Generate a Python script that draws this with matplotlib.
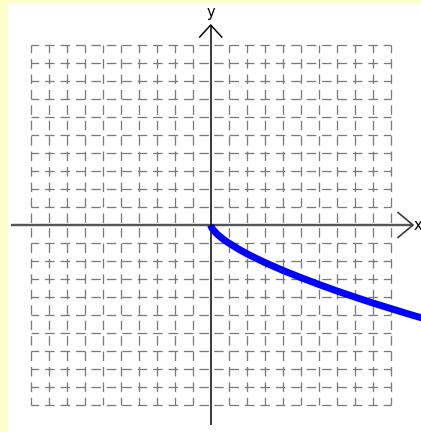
import matplotlib
matplotlib.use("Agg")
import matplotlib.pyplot as plt

plt.rcParams['lines.scale_dashes'] = False

# ---- data ----
curve_x = [0.0, 0.02, 0.05, 0.1, 0.2, 0.35, 0.5, 0.75, 1.0, 1.5, 2.0, 2.5, 3.0, 4.0,
           5.0, 6.0, 7.0, 8.0, 9.0, 10.0, 11.0, 12.0]
curve_y = [0.0, -0.07, -0.14, -0.22, -0.34, -0.50, -0.63, -0.83, -1.0, -1.31, -1.59,
           -1.84, -2.08, -2.52, -2.92, -3.30, -3.66, -4.0, -4.33, -4.64, -4.95, -5.24]
grid_range = 10          # grid from -10 to 10 in both directions
axis_labels = ["x", "y"]

# ---- layout ----
W, H = 421, 432
DPI = 100
PX = 18.0                 # pixels per unit
ox, oy = 210.7, 225.0     # origin in pixels (from top-left)
white_left, white_top = 8, 4

fig = plt.figure(figsize=(W / DPI, H / DPI), dpi=DPI, facecolor='#ffffcc')
ax = fig.add_axes([white_left / W, 0, (W - white_left) / W, (H - white_top) / H])
ax.set_facecolor('white')
ax.set_xlim((white_left - ox) / PX, (W - ox) / PX)
ax.set_ylim((oy - H) / PX, (oy - white_top) / PX)
ax.set_xticks([])
ax.set_yticks([])
for s in ax.spines.values():
    s.set_visible(False)

pt = 72.0 / DPI
on_px, off_px, start_px = 9.5, 5.93, 2.6
period = on_px + off_px
dash = ((period - start_px) * pt, (on_px * pt, off_px * pt))
gcol = '#7a7a7a'
glw = 1.3 * pt
for k in range(-grid_range, grid_range + 1):
    if k == 0:
        continue
    for sgn in (1, -1):
        ax.plot([k, k], [0, sgn * grid_range], color=gcol, lw=glw,
                linestyle=dash, solid_capstyle='butt', dash_capstyle='butt', zorder=1)
        ax.plot([0, sgn * grid_range], [k, k], color=gcol, lw=glw,
                linestyle=dash, solid_capstyle='butt', dash_capstyle='butt', zorder=1)

# x axis (grey, thick) with open arrow
x0, x1 = (11 - ox) / PX, (413 - ox) / PX
ax.plot([x0, x1], [0, 0], color='#555555', lw=2.4 * pt, zorder=2, solid_capstyle='butt')
ah_len, ah_w = 15 / PX, 12.5 / PX
ax.plot([x1 - ah_len, x1, x1 - ah_len], [ah_w, 0, -ah_w], color='#333333', lw=1.6 * pt, zorder=2)
ax.text((418 - ox) / PX, 0, axis_labels[0], fontsize=10.5, ha='center', va='center', color='black')

# y axis (black) with open arrow
y0, y1 = (oy - 425) / PX, (oy - 25) / PX
ax.plot([0, 0], [y0, y1], color='black', lw=1.5 * pt, zorder=2, solid_capstyle='butt')
ah_len2, ah_w2 = 12 / PX, 11 / PX
ax.plot([-ah_w2, 0, ah_w2], [y1 - ah_len2, y1, y1 - ah_len2], color='black', lw=1.5 * pt, zorder=2)
ax.text(0, (oy - 12) / PX, axis_labels[1], fontsize=10.5, ha='center', va='center', color='black')

# curve
ax.plot(curve_x, curve_y, color='#0000ff', lw=7 * pt, solid_capstyle='butt',
        solid_joinstyle='round', zorder=3)

fig.savefig('out.png', dpi=DPI, facecolor=fig.get_facecolor())
